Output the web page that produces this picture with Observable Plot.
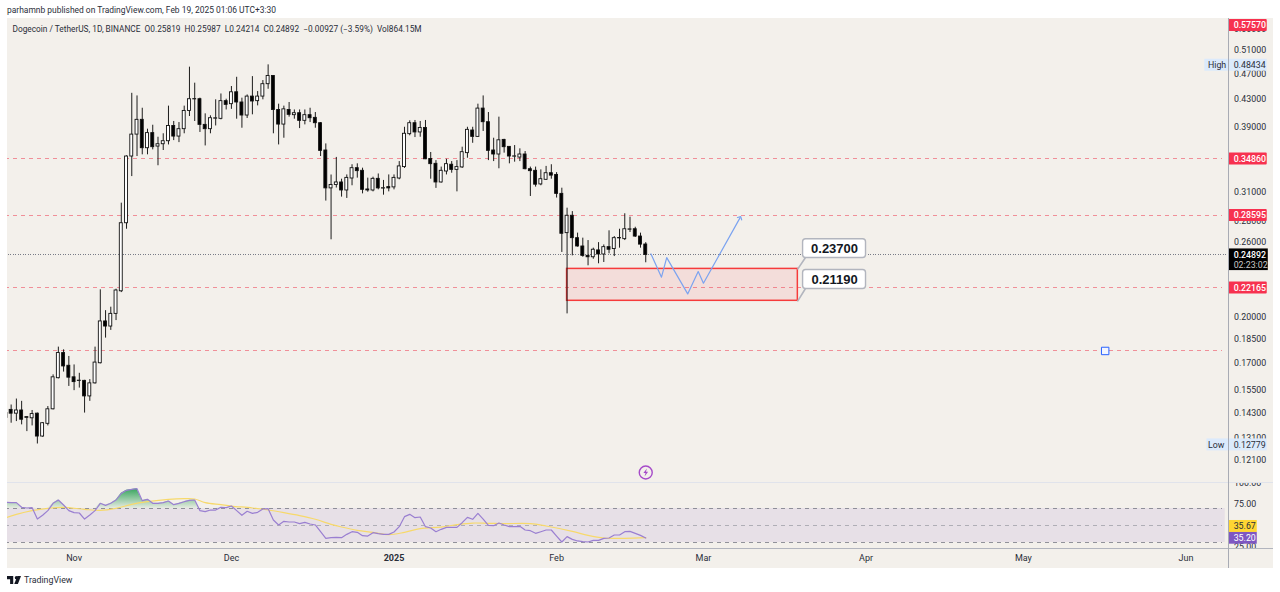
<!DOCTYPE html>
<html>
<head>
<meta charset="utf-8">
<script src="https://cdn.jsdelivr.net/npm/d3@7"></script>
<script src="https://cdn.jsdelivr.net/npm/@observablehq/plot@0.6"></script>
<style>
html,body{margin:0;padding:0;background:#fff;}
#chart{position:relative;width:1280px;height:592px;overflow:hidden;background:#fff;font-family:Roboto,sans-serif;color:#131722;}
#panel{position:absolute;left:7px;top:18px;width:1266px;height:550px;background:#f3f0eb;}
.layer{position:absolute;left:0;}
.sep{position:absolute;}
#pub{position:absolute;left:7px;top:4px;font-size:8.45px;line-height:12px;white-space:pre;color:#2a2e39;}
#legend{position:absolute;left:12.5px;top:23px;font-size:8.3px;line-height:12px;white-space:pre;color:#2a2e39;}
#logo{position:absolute;left:7px;top:576px;width:14px;height:8px;}
#brand{position:absolute;left:24px;top:573px;font-size:8.8px;line-height:14px;color:#2a2e39;}
</style>
</head>
<body>
<div id="chart">
  <div id="pub">parhamnb published on TradingView.com, Feb 19, 2025 01:06 UTC+3:30</div>
  <div id="panel"></div>
  <div id="main" class="layer" style="top:0"></div>
  <div id="rsi" class="layer" style="top:483px"></div>
  <div class="sep" style="left:7px;top:482px;width:1266px;height:1px;background:#e0e3eb"></div>
  <div class="sep" style="left:7px;top:548px;width:1266px;height:1px;background:#b2b5be"></div>
  <div class="sep" style="left:1228px;top:18px;width:1px;height:550px;background:#a8abb4"></div>
  <div id="legend">Dogecoin / TetherUS, 1D, BINANCE  O0.25819  H0.25987  L0.24214  C0.24892  −0.00927 (−3.59%)  Vol864.15M</div>
  <svg id="logo" viewBox="2 6 27 15"><path fill="#131722" d="M14 6H2v6h6v9h6V6z"/><circle fill="#131722" cx="20" cy="9" r="3"/><path fill="#131722" d="M29 6h-7l-6 15h7l6-15z"/></svg>
  <div id="brand">TradingView</div>
</div>
<script>
// Daily candles from 19 Oct 2024 to 18 Feb 2025
const firstDay = Date.UTC(2024, 9, 20);
const candleOpen = [.1405,.1445,.1426,.1442,.1405,.1403,.1426,.1316,.1376,.1448,.1615,.1764,.1687,.1620,.1599,.1600,.1515,.1586,.1702,.1971,.1936,.2024,.2191,.2782,
.3516,.3797,.3999,.3620,.3817,.3641,.3671,.3710,.3914,.3771,.3870,.4126,.4297,.4299,.3929,.3870,.4015,.4013,.4270,.4225,.4405,.4250,.4060,.4339,.4270,.4339,.4532,
.4665,.4140,.3933,.4140,.4065,.4093,.3985,.4065,.4027,.3952,.3591,.3144,.3181,.3210,.3121,.3255,.3375,.3344,.3132,.3121,.3251,.3142,.3158,.3155,.3255,.3388,.3803,
.3952,.3826,.3887,.3486,.3427,.3210,.3336,.3416,.3355,.3384,.3558,.3852,.3767,.4160,.3966,.3591,.3541,.3727,.3637,.3514,.3503,.3541,.3363,.3344,.3188,.3240,.3316,
.3296,.3084,.2687,.2856,.2640,.2564,.2481,.2469,.2529,.2493,.2558,.2541,.2638,.2631,.2719,.2724,.2655,.25819];
const candleHigh = [.1445,.1470,.1501,.1489,.1411,.1442,.1429,.1382,.1462,.1634,.1801,.1784,.1743,.1692,.1643,.1603,.1607,.1801,.2202,.2047,.2072,.2207,.2985,.3524,
.4389,.4349,.4165,.3870,.3924,.3762,.3808,.4196,.3976,.3961,.4196,.4811,.4548,.4315,.4084,.4056,.4290,.4379,.4299,.4495,.4643,.4315,.4364,.4654,.4416,.4590,.4850,
.4670,.4225,.4196,.4250,.4140,.4140,.4140,.4165,.4103,.3961,.3675,.3295,.3505,.3247,.3296,.3416,.3427,.3375,.3259,.3270,.3307,.3233,.3296,.3296,.3454,.3896,.3985,
.3990,.3976,.3990,.3566,.3466,.3388,.3482,.3454,.3466,.3633,.3896,.3896,.4225,.4349,.4103,.3749,.4037,.3735,.3641,.3654,.3612,.3578,.3388,.3388,.3355,.3396,.3416,
.3323,.3146,.2933,.2898,.2687,.2640,.2618,.2549,.2599,.2578,.2709,.2655,.2724,.2876,.2842,.2743,.2687,.25987];
const candleLow = [.1371,.1379,.1387,.1371,.1339,.1366,.1282,.1313,.1366,.1445,.1611,.1650,.1569,.1546,.1560,.1429,.1489,.1582,.1698,.1859,.1910,.1977,.2181,.2724,
.3277,.3516,.3537,.3537,.3599,.3404,.3591,.3662,.3718,.3692,.3808,.4046,.3976,.3826,.3649,.3808,.3914,.3999,.4140,.4149,.4008,.3883,.4018,.4070,.4200,.4290,.4452,
.3808,.3662,.3749,.4037,.4008,.3878,.3929,.3961,.3883,.3516,.3007,.2625,.3148,.3049,.3035,.3173,.3259,.3084,.3102,.3106,.3128,.3070,.3106,.3128,.3240,.3372,.3781,
.3758,.3762,.3478,.3247,.3144,.3203,.3296,.3316,.3106,.3372,.3495,.3683,.3762,.3839,.3466,.3454,.3368,.3558,.3427,.3447,.3454,.3355,.3056,.3158,.3173,.3233,.3247,
.3039,.2511,.2024,.2481,.2558,.2469,.2396,.2452,.2413,.2424,.2499,.2475,.2549,.2618,.2693,.2646,.2549,.24214];
const candleClose = [.1429,.1426,.1442,.1396,.1409,.1424,.1316,.1379,.1448,.1620,.1764,.1683,.1618,.1593,.1601,.1515,.1586,.1706,.1971,.1936,.2024,.2197,.2782,.3516,
.3797,.3999,.3620,.3817,.3633,.3671,.3710,.3914,.3771,.3870,.4126,.4299,.4301,.3929,.3870,.4022,.4021,.4270,.4215,.4405,.4250,.4060,.4339,.4265,.4339,.4532,.4665,
.4140,.3933,.4149,.4070,.4093,.3985,.4065,.4022,.3952,.3586,.3144,.3181,.3210,.3121,.3262,.3375,.3340,.3128,.3121,.3251,.3144,.3146,.3144,.3262,.3396,.3808,.3952,
.3826,.3887,.3482,.3423,.3210,.3344,.3423,.3355,.3388,.3570,.3861,.3767,.4160,.3966,.3587,.3541,.3722,.3633,.3516,.3518,.3541,.3363,.3340,.3185,.3247,.3316,.3288,
.3084,.2681,.2856,.2640,.2564,.2481,.2469,.2535,.2493,.2558,.2535,.2640,.2642,.2724,.2723,.2655,.2581,.24892];

// RSI (14) and its moving average
const rsiValue = [77.3,76.9,76.9,71.4,70.6,71.0,57.6,62.0,67.5,76.1,80.0,74.1,67.5,65.1,64.7,57.6,62.4,67.5,76.1,73.7,76.1,80.0,87.8,91.4,92.5,93.3,79.2,80.8,76.1,76.1,76.9,78.8,74.5,76.1,78.0,79.6,80.0,67.5,66.3,68.2,68.2,71.4,71.0,72.9,67.5,62.0,66.7,64.3,65.5,69.4,69.8,56.5,50.6,54.9,54.1,54.1,52.2,53.7,51.8,50.6,42.7,34.9,35.7,36.1,35.7,39.6,42.7,42.0,38.0,37.6,41.6,40.4,39.6,39.6,42.4,48.6,60.4,63.1,59.2,60.0,48.6,47.1,42.7,45.5,47.8,47.8,47.8,53.3,59.6,57.3,64.3,57.6,50.2,49.8,52.9,50.6,48.6,48.6,49.0,44.7,43.9,40.8,42.7,44.7,44.7,37.6,30.6,36.9,33.7,31.8,31.0,30.6,32.5,32.5,34.9,35.3,38.8,38.8,42.7,43.1,40.8,38.4,35.2];
const maDay = [-1,1,4,7,10,14,17,20,23,26,30,33,35,37,40,42,46,49,52,55,58,61,63,66,69,72,75,78,82,85,88,91,94,99,102,107,110,113,117,121];
const maValue = [59.2,63.1,67.5,70.2,71.4,69,67.8,70.2,74.9,78,80.8,81.6,81.2,76.9,74.5,72.9,70.6,68.2,65.1,61.6,57.3,51.4,48.2,44.3,42,39.2,42,46.3,48.2,51,52.9,52.5,52.2,52.2,49.4,43.1,38.4,35.3,34.9,35.67];

// Price levels and annotations
const levelPrices = [0.3486, 0.28595, 0.22165, 0.1777];
const lastPrice = 0.24892;
const zoneTop = 0.237, zoneBottom = 0.2119;
const pathDates = ["2025-02-19","2025-02-21","2025-02-22","2025-02-26","2025-02-28","2025-03-01","2025-03-08"];
const pathPrices = [0.2498,0.2302,0.2466,0.2171,0.2348,0.2254,0.2837];
const calloutLabels = ["0.23700","0.21190"];
const calloutPrices = [0.237,0.2119];
const calloutTops = [0.2630,0.2361];
const calloutBottoms = [0.2463,0.2209];
const priceTicks = [0.55,0.51,0.47,0.43,0.39,0.31,0.28,0.26,0.20,0.185,0.17,0.155,0.143,0.131,0.121];
const rsiTicks = [100,75,25];
const rsiBands = [70,50,30];
const monthTicks = ["2024-11-01","2024-12-01","2025-02-01","2025-03-01","2025-04-01","2025-05-01","2025-06-01"];
const redFlagLabels = ["0.57570","0.34860","0.28595","0.22165"];
const redFlagPrices = [0.5569,0.3486,0.28595,0.22165];
const extremeNames = ["High","Low"];
const extremeLabels = ["0.48434","0.12779"];
const extremePrices = [0.48434,0.12779];

const dayAt = n => new Date(firstDay + n * 864e5);
const xScale = {type:"utc", domain:[dayAt(-1), dayAt(232)], range:[5.4,1227.4]};
const pxPrice = (p, px) => p * Math.exp(-px / 285); // price a few pixels below p

const candles = candleOpen.map((o,i) => ({date:dayAt(i-1), open:o, high:candleHigh[i], low:candleLow[i], close:candleClose[i], t:i-1}));
const ups = candles.filter(d => d.close >= d.open);
const downs = candles.filter(d => d.close < d.open);
const rsiRows = rsiValue.map((v,i) => ({date:dayAt(i-1), v}));
const maRows = maDay.map((d,i) => ({date:dayAt(d), v:maValue[i]}));
const pathRows = pathDates.map((d,i) => ({date:new Date(d), p:pathPrices[i]}));
const callouts = calloutLabels.map((label,i) => ({label, p:calloutPrices[i], top:calloutTops[i], bottom:calloutBottoms[i]}));
const pointers = callouts.flatMap(c => [{k:c.label, date:dayAt(150), p:c.p},{k:c.label, date:dayAt(151.4), p:c.bottom}]);
const redFlags = redFlagLabels.map((label,i) => ({label, p:redFlagPrices[i]}));
const extremes = extremeNames.map((name,i) => ({name, label:extremeLabels[i], p:extremePrices[i]}));

const bolt = {draw(c, size){const r=Math.sqrt(size/Math.PI);
  c.moveTo(.3*r,-r);c.lineTo(-.6*r,.15*r);c.lineTo(-.05*r,.15*r);c.lineTo(-.3*r,r);c.lineTo(.6*r,-.2*r);c.lineTo(.05*r,-.2*r);c.closePath();}};

const FONT = "Roboto, sans-serif";
const bodyRect = {x1:d=>new Date(+d.date-0.28*864e5), x2:d=>new Date(+d.date+0.28*864e5), y1:"open", y2:"close", stroke:"#111", strokeWidth:.9, clip:true};

const main = Plot.plot({
  width:1280, height:483, marginTop:18, marginBottom:0, marginLeft:7, marginRight:52,
  style:{background:"transparent", fontFamily:FONT, color:"#2a2e39", overflow:"hidden"},
  x:{...xScale, axis:null},
  y:{type:"log", domain:[0.1118,0.5717], range:[482.5,17.5], axis:null},
  marks:[
    Plot.ruleY(levelPrices,{x1:dayAt(-1),x2:dayAt(231),stroke:"#ef4f60",strokeWidth:1,strokeDasharray:"4,4",strokeOpacity:.6,shapeRendering:"crispEdges",clip:true}),
    Plot.ruleY([lastPrice],{x1:dayAt(-1),x2:dayAt(232),stroke:"#787b86",strokeWidth:1,strokeDasharray:"1,1.5",shapeRendering:"crispEdges",clip:true}),
    Plot.rect([{}],{x1:dayAt(106),x2:dayAt(150),y1:zoneBottom,y2:zoneTop,fill:"#f23645",fillOpacity:.1,stroke:"#f63b3b",strokeWidth:1.5}),
    Plot.ruleX(candles,{x:"date",y1:"low",y2:"high",stroke:"#111",strokeWidth:.95,clip:true}),
    Plot.rect(ups,{...bodyRect,fill:"#fff"}),
    Plot.rect(downs,{...bodyRect,fill:"#000"}),
    Plot.line(pathRows,{x:"date",y:"p",stroke:"#7ba3f0",strokeWidth:1.2,markerEnd:"arrow"}),
    Plot.line(pointers,{x:"date",y:"p",z:"k",stroke:"#b2b5be",strokeWidth:1.6}),
    Plot.rect(callouts,{x1:dayAt(151),x2:dayAt(163),y1:"bottom",y2:"top",fill:"#fff",stroke:"#b2b5be",strokeWidth:1.4,rx:3}),
    Plot.text(callouts,{x:dayAt(157),y:d=>Math.sqrt(d.top*d.bottom),text:"label",fontFamily:"Liberation Sans",fontWeight:"bold",fontSize:13,fill:"#131722"}),
    Plot.dot([levelPrices[3]],{x:dayAt(208.6),y:d=>d,symbol:"square",r:4.2,fill:"#f3f6ff",stroke:"#2962ff",strokeWidth:1}),
    Plot.dot([0.1160],{x:dayAt(121),y:d=>d,r:6.5,fill:"#f3f0eb",stroke:"#a64bc9",strokeWidth:1.4}),
    Plot.dot([0.1160],{x:dayAt(121),y:d=>d,symbol:bolt,r:4,fill:"#a64bc9"}),
    Plot.axisY(priceTicks,{anchor:"right",tickSize:0,tickPadding:5.6,tickFormat:d3.format(".5f"),fontSize:8.8,label:null}),
    Plot.rect(extremes,{x1:d=>d.name==="High"?dayAt(227.6):dayAt(228),x2:dayAt(239.5),y1:d=>pxPrice(d.p,-6),y2:d=>pxPrice(d.p,6),fill:"#dbeafc"}),
    Plot.text(extremes,{x:dayAt(228.2),y:"p",text:"name",textAnchor:"start",fontSize:8.8,fill:"#2a2e39"}),
    Plot.text(extremes,{x:dayAt(233.1),y:"p",text:"label",textAnchor:"start",fontSize:8.8,fill:"#2a2e39"}),
    Plot.rect(redFlags,{x1:dayAt(232.2),x2:dayAt(239.5),y1:d=>pxPrice(d.p,-6),y2:d=>pxPrice(d.p,6),fill:"#f7314f",rx:1}),
    Plot.text(redFlags,{x:dayAt(233.1),y:"p",text:"label",textAnchor:"start",fontSize:8.8,fontWeight:500,fill:"#fff"}),
    Plot.rect([{}],{x1:dayAt(232.2),x2:dayAt(239.7),y1:0.2356,y2:0.2542,fill:"#000"}),
    Plot.text([lastPrice],{x:dayAt(233.1),y:d=>d,text:d=>d.toFixed(5),textAnchor:"start",fontSize:8.8,fontWeight:500,fill:"#fff"}),
    Plot.text([0.2402],{x:dayAt(233.1),y:d=>d,text:()=>"02:23:02",textAnchor:"start",fontSize:8.8,fill:"#c8c8c8"})
  ]
});
document.getElementById("main").append(main);

const rsi = Plot.plot({
  width:1280, height:85, marginTop:0, marginBottom:20, marginLeft:7, marginRight:52,
  style:{background:"transparent", fontFamily:FONT, color:"#2a2e39", overflow:"hidden"},
  x:{...xScale, axis:null},
  y:{domain:[25,100], range:[63.25,-0.5], axis:null},
  marks:[
    () => {
      const defs = d3.create("svg:defs");
      const g = defs.append("linearGradient").attr("id","rsiGreen").attr("gradientUnits","userSpaceOnUse")
        .attr("x1",0).attr("x2",0).attr("y1",5).attr("y2",25.5);
      g.append("stop").attr("offset",0).attr("stop-color","#1e9b4b").attr("stop-opacity",.9);
      g.append("stop").attr("offset",1).attr("stop-color","#1e9b4b").attr("stop-opacity",.04);
      return defs.node();
    },
    Plot.rect([{}],{x1:dayAt(-1),x2:dayAt(231.5),y1:30,y2:70,fill:"#7e57c2",fillOpacity:.1,clip:true}),
    Plot.ruleY(rsiBands,{x1:dayAt(-1),x2:dayAt(231),stroke:"#787b86",strokeWidth:1,strokeDasharray:"4,4",strokeOpacity:d=>d===50?.5:.8,shapeRendering:"crispEdges",clip:true}),
    Plot.areaY(rsiRows,{x:"date",y1:70,y2:d=>Math.max(d.v,70),fill:"url(#rsiGreen)",clip:true}),
    Plot.line(maRows,{x:"date",y:"v",stroke:"#f7d96b",strokeWidth:1.2,curve:"catmull-rom",clip:true}),
    Plot.line(rsiRows,{x:"date",y:"v",stroke:"#9a7fd1",strokeWidth:1.2,clip:true}),
    Plot.axisY(rsiTicks,{anchor:"right",tickSize:0,tickPadding:5.6,tickFormat:d3.format(".2f"),fontSize:8.8,label:null}),
    Plot.axisX(monthTicks.map(d=>new Date(d)),{anchor:"bottom",tickSize:0,tickPadding:6,tickFormat:d3.utcFormat("%b"),fontSize:9,label:null}),
    Plot.axisX([new Date("2025-01-01")],{anchor:"bottom",tickSize:0,tickPadding:6,tickFormat:()=>"2025",fontSize:9,fontWeight:"bold",label:null}),
    Plot.rect([{}],{x1:dayAt(232.2),x2:dayAt(239.6),y1:19,y2:22.9,fill:"#f3f0eb"}),
    Plot.rect([{}],{x1:dayAt(232.2),x2:dayAt(237.6),y1:41.8,y2:55.9,fill:"#ffd633"}),
    Plot.rect([{}],{x1:dayAt(232.2),x2:dayAt(237.6),y1:28,y2:41.8,fill:"#7e57c2"}),
    Plot.text([48.9],{x:dayAt(233.1),y:d=>d,text:()=>"35.67",textAnchor:"start",fontSize:8.8,fill:"#2a2e39"}),
    Plot.text([34.7],{x:dayAt(233.1),y:d=>d,text:()=>"35.20",textAnchor:"start",fontSize:8.8,fill:"#fff"})
  ]
});
document.getElementById("rsi").append(rsi);
</script>
</body>
</html>
